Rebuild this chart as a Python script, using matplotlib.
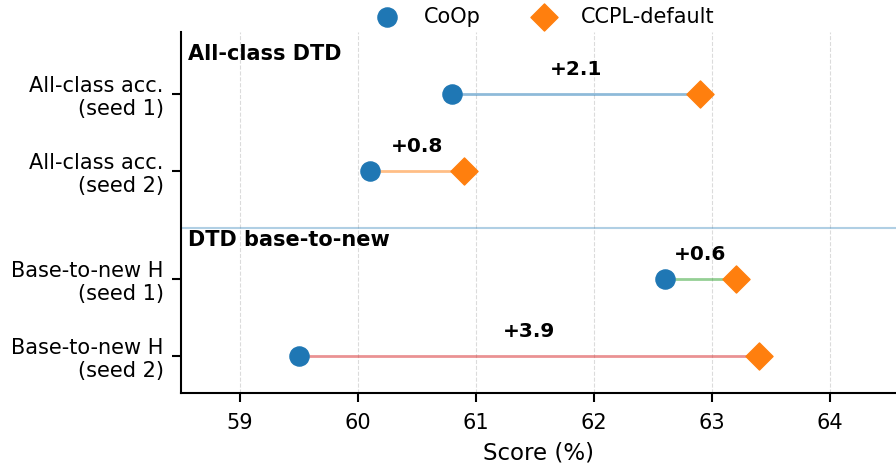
import matplotlib
matplotlib.use("Agg")
import matplotlib.pyplot as plt

labels = ["All-class acc.\n(seed 1)", "All-class acc.\n(seed 2)",
          "Base-to-new H\n(seed 1)", "Base-to-new H\n(seed 2)"]
coop = [60.8, 60.1, 62.6, 59.5]
ccpl = [62.9, 60.9, 63.2, 63.4]
line_colors = ["tab:blue", "tab:orange", "tab:green", "tab:red"]
ypos = [0, 1, 2.4, 3.4]
group_titles = ["All-class DTD", "DTD base-to-new"]
xticks = [59, 60, 61, 62, 63, 64]

fig = plt.figure(figsize=(8.96, 4.63), dpi=100)
ax = fig.add_axes([181/896, 1-393/463, 1-181/896, (393-32)/463])

for y, a, b, c in zip(ypos, coop, ccpl, line_colors):
    ax.plot([a, b], [y, y], color=c, alpha=0.5, lw=2, zorder=2)
    ax.text((a+b)/2, y-0.2, f"+{b-a:.1f}", ha="center", va="bottom",
            fontsize=14.5, fontweight="bold")
ax.scatter(coop, ypos, s=190, color="tab:blue", zorder=3, label="CoOp")
ax.scatter(ccpl, ypos, s=190, marker="D", color="tab:orange", zorder=3,
           label="CCPL-default")

ax.axhline(1.74, color="tab:blue", alpha=0.35, lw=1.5)
ax.text(58.56, -0.52, group_titles[0], fontsize=15, fontweight="bold", va="center")
ax.text(58.56, 1.9, group_titles[1], fontsize=15, fontweight="bold", va="center")

ax.set_xlim(58.5, 64.56)
ax.set_ylim(3.88, -0.805)
ax.set_yticks(ypos)
ax.set_yticklabels(labels, fontsize=15)
ax.set_xticks(xticks)
ax.tick_params(axis="both", labelsize=15, length=6.5, width=1.5, pad=6)
ax.tick_params(axis="x", pad=8)
ax.set_xlabel("Score (%)", fontsize=16.5, labelpad=6)
ax.grid(axis="x", ls="--", color="lightgray", alpha=0.8)
ax.set_axisbelow(True)
for s in ["top", "right"]:
    ax.spines[s].set_visible(False)
ax.spines["left"].set_linewidth(1.5)
ax.spines["bottom"].set_linewidth(1.5)

fig.legend(loc="upper center", bbox_to_anchor=(0.603, 1.026), ncol=2,
           frameon=False, fontsize=15, columnspacing=2.0, handletextpad=0.8)

fig.savefig("out.png", dpi=100)
